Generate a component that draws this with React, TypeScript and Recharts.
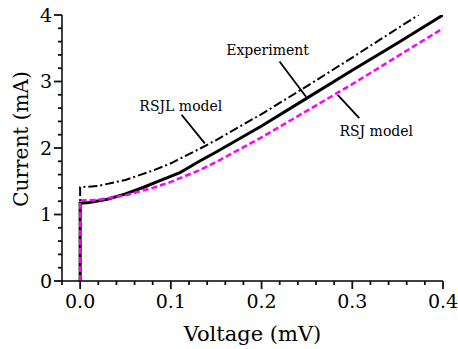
import React from 'react';
import { LineChart, Line, XAxis, YAxis, ReferenceLine, ReferenceDot } from 'recharts';

// I-V curves of the junction (voltage in mV, current in mA)
const expVoltage = [0, 0, 0.01, 0.03, 0.05, 0.07, 0.09, 0.11, 0.115, 0.13, 0.15, 0.2, 0.25, 0.3, 0.35, 0.4];
const expCurrent = [0, 1.17, 1.18, 1.23, 1.31, 1.41, 1.52, 1.63, 1.67, 1.79, 1.94, 2.33, 2.75, 3.17, 3.58, 4.0];

const rsjlVoltage = [0, 0, 0.02, 0.05, 0.08, 0.1, 0.132, 0.15, 0.2, 0.25, 0.3, 0.35, 0.373];
const rsjlCurrent = [0, 1.41, 1.43, 1.52, 1.66, 1.77, 1.99, 2.12, 2.51, 2.93, 3.36, 3.8, 4.0];

const rsjVoltage = [0, 0, 0.02, 0.05, 0.08, 0.1, 0.132, 0.15, 0.2, 0.25, 0.3, 0.35, 0.4];
const rsjCurrent = [0, 1.21, 1.22, 1.29, 1.4, 1.49, 1.67, 1.79, 2.16, 2.56, 2.96, 3.38, 3.8];

const xTicks = [-0.02, 0, 0.02, 0.04, 0.06, 0.08, 0.1, 0.12, 0.14, 0.16, 0.18, 0.2, 0.22, 0.24, 0.26, 0.28, 0.3, 0.32, 0.34, 0.36, 0.38, 0.4];
const yTicks = [0, 0.2, 0.4, 0.6, 0.8, 1, 1.2, 1.4, 1.6, 1.8, 2, 2.2, 2.4, 2.6, 2.8, 3, 3.2, 3.4, 3.6, 3.8, 4];

// annotation labels and their pointer lines, in data units
const labels = [
  { text: 'Experiment', v: 0.2066, i: 3.47 },
  { text: 'RSJL model', v: 0.111, i: 2.63 },
  { text: 'RSJ model', v: 0.3264, i: 2.26 },
];
const pointers = [
  [{ x: 0.2198, y: 3.3 }, { x: 0.249, y: 2.77 }],
  [{ x: 0.1118, y: 2.5 }, { x: 0.1374, y: 2.07 }],
  [{ x: 0.3077, y: 2.45 }, { x: 0.2839, y: 2.8 }],
];

const toPoints = (v: number[], c: number[]) => v.map((x, k) => ({ v: x, i: c[k] }));
const expData = toPoints(expVoltage, expCurrent);
const rsjlData = toPoints(rsjlVoltage, rsjlCurrent);
const rsjData = toPoints(rsjVoltage, rsjCurrent);

const FONT = 'DejaVu Serif';
const serif = { fontFamily: FONT };
const MAJOR = 8;
const MINOR = 4;
const isMajor = (v: number, step: number) => Math.abs(v / step - Math.round(v / step)) < 1e-6;

function BottomTick(props: any) {
  const x = Number(props.x);
  const y = Number(props.y);
  const major = isMajor(props.payload.value, 0.1);
  return (
    <g>
      <rect x={x - 0.9} y={y} width={1.8} height={major ? MAJOR : MINOR} fill="#111" />
      {major && (
        <text x={x} y={y + 27} textAnchor="middle" fontSize={19} style={serif} fill="#000">
          {props.payload.value.toFixed(1)}
        </text>
      )}
    </g>
  );
}

function TopTick(props: any) {
  const x = Number(props.x);
  const y = Number(props.y);
  const major = isMajor(props.payload.value, 0.1);
  return <rect x={x - 0.9} y={y} width={1.8} height={major ? MAJOR - 2 : MINOR} fill="#111" />;
}

function LeftTick(props: any) {
  const x = Number(props.x);
  const y = Number(props.y);
  const major = isMajor(props.payload.value, 1);
  const len = major ? MAJOR : MINOR;
  return (
    <g>
      <rect x={x - len} y={y - 0.9} width={len} height={1.8} fill="#111" />
      {major && (
        <text x={x - 10} y={y} dy="0.36em" textAnchor="end" fontSize={19} style={serif} fill="#000">
          {props.payload.value}
        </text>
      )}
    </g>
  );
}

function RightTick(props: any) {
  const x = Number(props.x);
  const y = Number(props.y);
  const len = isMajor(props.payload.value, 1) ? MAJOR - 1 : MINOR;
  return <rect x={x - len} y={y - 0.9} width={len} height={1.8} fill="#111" />;
}

export default function App() {
  return (
    <div style={{ position: 'absolute', left: 0, top: 0, background: '#fff', fontFamily: FONT }}>
      <LineChart width={458} height={349} margin={{ top: 15, right: 15, left: 0, bottom: 0 }}>
        <XAxis
          xAxisId="x"
          dataKey="v"
          type="number"
          domain={[-0.02, 0.4]}
          ticks={xTicks}
          interval={0}
          height={68}
          tickSize={0}
          tickMargin={0}
          tickLine={false}
          tick={(p: any) => <BottomTick {...p} />}
          axisLine={{ stroke: '#000', strokeWidth: 1.5 }}
          allowDataOverflow
          label={{ value: 'Voltage (mV)', position: 'insideBottom', offset: 8, fontSize: 21, fill: '#000', style: serif }}
        />
        <XAxis
          xAxisId="xt"
          orientation="top"
          type="number"
          domain={[-0.02, 0.4]}
          ticks={xTicks}
          interval={0}
          height={0}
          tickSize={0}
          tickMargin={0}
          tickLine={false}
          tick={(p: any) => <TopTick {...p} />}
          axisLine={{ stroke: '#000', strokeWidth: 1.5 }}
        />
        <YAxis
          yAxisId="y"
          type="number"
          domain={[0, 4]}
          ticks={yTicks}
          interval={0}
          width={62}
          tickSize={0}
          tickMargin={0}
          tickLine={false}
          tick={(p: any) => <LeftTick {...p} />}
          axisLine={{ stroke: '#000', strokeWidth: 1.5 }}
          allowDataOverflow
          label={{
            content: ({ viewBox }: any) => (
              <text
                transform={`translate(${viewBox.x + 21}, ${viewBox.y + viewBox.height / 2 - 9}) rotate(-90)`}
                textAnchor="middle"
                dy="0.36em"
                fontSize={20}
                style={serif}
                fill="#000"
              >
                Current (mA)
              </text>
            ),
          }}
        />
        <YAxis
          yAxisId="yr"
          orientation="right"
          type="number"
          domain={[0, 4]}
          ticks={yTicks}
          interval={0}
          width={0}
          tickSize={0}
          tickMargin={0}
          tickLine={false}
          tick={(p: any) => <RightTick {...p} />}
          axisLine={{ stroke: '#000', strokeWidth: 1.5 }}
        />

        <Line data={expData} dataKey="i" xAxisId="x" yAxisId="y" type="linear" dot={false} stroke="#000" strokeWidth={3} isAnimationActive={false} />
        <Line data={rsjlData} dataKey="i" xAxisId="x" yAxisId="y" type="linear" dot={false} stroke="#000" strokeWidth={2} strokeDasharray="9 3 2 3" isAnimationActive={false} />
        <Line data={rsjData} dataKey="i" xAxisId="x" yAxisId="y" type="linear" dot={false} stroke="#f0f" strokeWidth={2.5} strokeDasharray="6 3" isAnimationActive={false} />

        {pointers.map((seg, k) => (
          <ReferenceLine key={k} xAxisId="x" yAxisId="y" segment={seg} stroke="#000" strokeWidth={1.8} />
        ))}
        {labels.map((l) => (
          <ReferenceDot
            key={l.text}
            xAxisId="x"
            yAxisId="y"
            x={l.v}
            y={l.i}
            r={0}
            fill="none"
            stroke="none"
            label={{ value: l.text, position: 'center', fontSize: 14, fill: '#000', style: serif }}
          />
        ))}
      </LineChart>
    </div>
  );
}
